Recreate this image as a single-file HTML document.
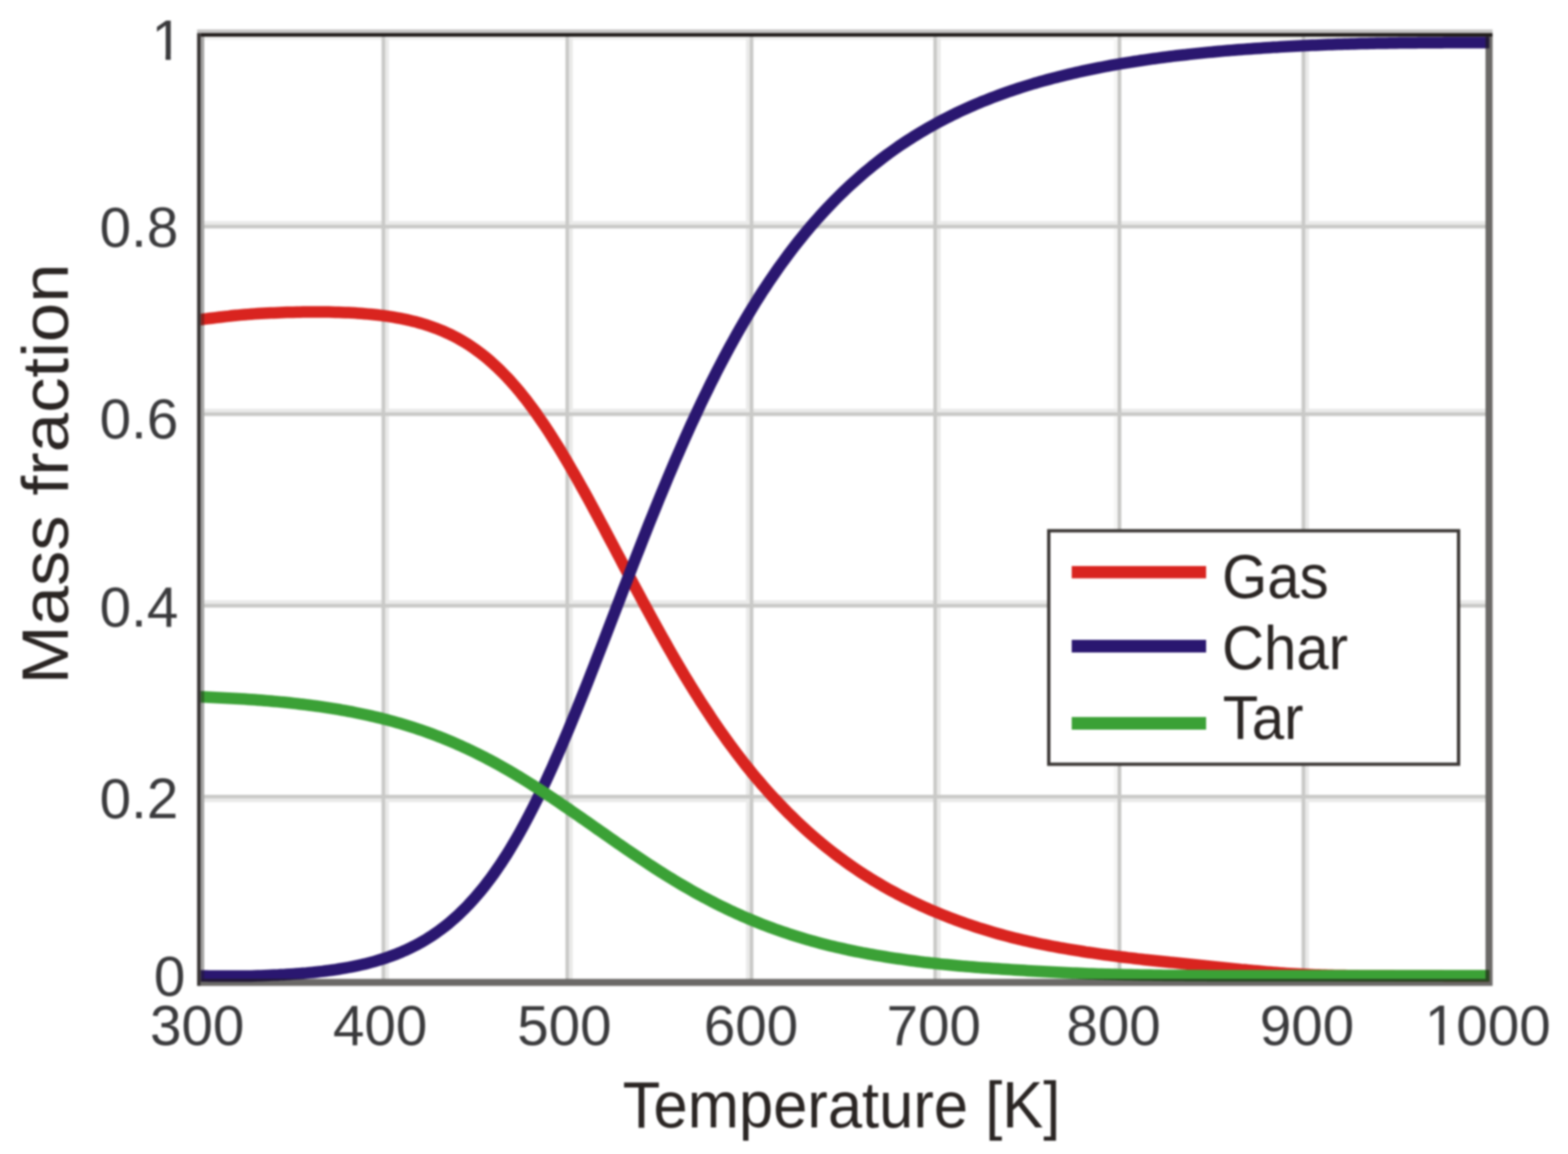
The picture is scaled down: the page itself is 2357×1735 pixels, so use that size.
<!DOCTYPE html>
<html lang="en"><head><meta charset="utf-8"><title>Mass fraction vs Temperature</title>
<style>
html,body{margin:0;padding:0;background:#fff;}
body{width:2357px;height:1735px;overflow:hidden;}
svg{display:block;filter:blur(1.6px);}
text{font-family:"Liberation Sans",Arial,Helvetica,sans-serif;fill:#2b2827;}
.tick{font-size:85px;fill:#3a3a3c;}
.ttl{font-size:98px;fill:#2a2523;}
.leg{font-size:92px;fill:#2a2523;}
</style></head><body>
<svg width="2357" height="1735" viewBox="0 0 2357 1735">
<rect x="0" y="0" width="2357" height="1735" fill="#ffffff"/>
<clipPath id="plot"><rect x="301.7" y="50" width="1937" height="1428"/></clipPath>

<g id="grid">
<rect x="307" y="55" width="1926" height="5" fill="#f0f0ee"/>
<rect x="579.0" y="55" width="5.5" height="1417" fill="#eaeae9"/>
<rect x="855.5" y="55" width="5.5" height="1417" fill="#eaeae9"/>
<rect x="1121.5" y="55" width="5.5" height="1417" fill="#eaeae9"/>
<rect x="1408.5" y="55" width="5.5" height="1417" fill="#eaeae9"/>
<rect x="1674.5" y="55" width="5.5" height="1417" fill="#f6f6f5"/>
<rect x="1962.0" y="55" width="5.5" height="1417" fill="#eaeae9"/>
<rect x="307" y="332.5" width="1926" height="5.5" fill="#eaeae9"/>
<rect x="307" y="614.5" width="1926" height="5.5" fill="#eaeae9"/>
<rect x="307" y="902.5" width="1926" height="5.5" fill="#eaeae9"/>
<rect x="307" y="1200.5" width="1926" height="5.5" fill="#eaeae9"/>
<rect x="573.5" y="55" width="5.5" height="1417" fill="#c9c9c7"/>
<rect x="850.0" y="55" width="5.5" height="1417" fill="#c9c9c7"/>
<rect x="1127.0" y="55" width="5.5" height="1417" fill="#c9c9c7"/>
<rect x="1403.0" y="55" width="5.5" height="1417" fill="#c9c9c7"/>
<rect x="1680.0" y="55" width="5.5" height="1417" fill="#c6c6c4"/>
<rect x="1956.5" y="55" width="5.5" height="1417" fill="#c9c9c7"/>
<rect x="307" y="338.0" width="1926" height="5.5" fill="#c9c9c7"/>
<rect x="307" y="620.0" width="1926" height="5.5" fill="#c9c9c7"/>
<rect x="307" y="908.0" width="1926" height="5.5" fill="#c9c9c7"/>
<rect x="307" y="1195.0" width="1926" height="5.5" fill="#c9c9c7"/>
</g>
<g fill="none" stroke-width="17.5" stroke-linejoin="round" clip-path="url(#plot)">
<path d="M300.0,480.7 L304.9,480.0 L309.7,479.4 L314.6,478.8 L319.4,478.2 L324.3,477.6 L329.2,477.0 L334.0,476.5 L338.9,475.9 L343.8,475.4 L348.6,474.8 L353.5,474.3 L358.3,473.9 L363.2,473.4 L368.1,473.0 L372.9,472.6 L377.8,472.3 L382.7,471.9 L387.5,471.6 L392.4,471.3 L397.2,471.1 L402.1,470.8 L407.0,470.6 L411.8,470.4 L416.7,470.2 L421.6,470.0 L426.4,469.8 L431.3,469.6 L436.1,469.5 L441.0,469.4 L445.9,469.3 L450.7,469.2 L455.6,469.1 L460.5,469.0 L465.3,469.0 L470.2,469.0 L475.0,469.0 L479.9,469.0 L484.8,469.0 L489.6,469.1 L494.5,469.1 L499.3,469.2 L504.2,469.4 L509.1,469.5 L513.9,469.7 L518.8,469.9 L523.7,470.1 L528.5,470.3 L533.4,470.6 L538.2,470.9 L543.1,471.3 L548.0,471.7 L552.8,472.1 L557.7,472.5 L562.6,473.0 L567.4,473.5 L572.3,474.1 L577.1,474.7 L582.0,475.4 L586.9,476.1 L591.7,476.9 L596.6,477.8 L601.5,478.7 L606.3,479.6 L611.2,480.6 L616.0,481.7 L620.9,482.9 L625.8,484.1 L630.6,485.5 L635.5,486.9 L640.4,488.4 L645.2,490.0 L650.1,491.7 L654.9,493.4 L659.8,495.3 L664.7,497.3 L669.5,499.5 L674.4,501.7 L679.2,504.0 L684.1,506.5 L689.0,509.1 L693.8,511.9 L698.7,514.8 L703.6,517.8 L708.4,521.0 L713.3,524.4 L718.1,527.9 L723.0,531.5 L727.9,535.3 L732.7,539.3 L737.6,543.5 L742.5,547.9 L747.3,552.4 L752.2,557.1 L757.0,562.0 L761.9,567.0 L766.8,572.3 L771.6,577.7 L776.5,583.3 L781.4,589.2 L786.2,595.2 L791.1,601.3 L795.9,607.7 L800.8,614.3 L805.7,621.0 L810.5,627.9 L815.4,635.0 L820.3,642.2 L825.1,649.6 L830.0,657.2 L834.8,664.9 L839.7,672.7 L844.6,680.7 L849.4,688.8 L854.3,697.1 L859.1,705.5 L864.0,713.9 L868.9,722.5 L873.7,731.2 L878.6,739.9 L883.5,748.8 L888.3,757.7 L893.2,766.7 L898.0,775.7 L902.9,784.8 L907.8,793.9 L912.6,803.1 L917.5,812.3 L922.4,821.5 L927.2,830.7 L932.1,839.9 L936.9,849.1 L941.8,858.3 L946.7,867.5 L951.5,876.7 L956.4,885.8 L961.3,894.9 L966.1,904.0 L971.0,913.0 L975.8,921.9 L980.7,930.9 L985.6,939.7 L990.4,948.5 L995.3,957.2 L1000.2,965.9 L1005.0,974.5 L1009.9,983.0 L1014.7,991.4 L1019.6,999.7 L1024.5,1007.9 L1029.3,1016.1 L1034.2,1024.1 L1039.0,1032.0 L1043.9,1039.9 L1048.8,1047.6 L1053.6,1055.3 L1058.5,1062.8 L1063.4,1070.2 L1068.2,1077.6 L1073.1,1084.8 L1077.9,1091.9 L1082.8,1098.9 L1087.7,1105.8 L1092.5,1112.6 L1097.4,1119.3 L1102.3,1125.9 L1107.1,1132.4 L1112.0,1138.8 L1116.8,1145.0 L1121.7,1151.2 L1126.6,1157.3 L1131.4,1163.2 L1136.3,1169.1 L1141.2,1174.8 L1146.0,1180.5 L1150.9,1186.0 L1155.7,1191.5 L1160.6,1196.9 L1165.5,1202.1 L1170.3,1207.3 L1175.2,1212.4 L1180.1,1217.4 L1184.9,1222.3 L1189.8,1227.1 L1194.6,1231.8 L1199.5,1236.5 L1204.4,1241.1 L1209.2,1245.5 L1214.1,1249.9 L1218.9,1254.2 L1223.8,1258.5 L1228.7,1262.6 L1233.5,1266.7 L1238.4,1270.7 L1243.3,1274.7 L1248.1,1278.5 L1253.0,1282.3 L1257.8,1286.0 L1262.7,1289.7 L1267.6,1293.2 L1272.4,1296.8 L1277.3,1300.2 L1282.2,1303.6 L1287.0,1306.9 L1291.9,1310.2 L1296.7,1313.3 L1301.6,1316.5 L1306.5,1319.5 L1311.3,1322.6 L1316.2,1325.5 L1321.1,1328.4 L1325.9,1331.3 L1330.8,1334.1 L1335.6,1336.8 L1340.5,1339.5 L1345.4,1342.1 L1350.2,1344.7 L1355.1,1347.2 L1359.9,1349.7 L1364.8,1352.1 L1369.7,1354.5 L1374.5,1356.9 L1379.4,1359.2 L1384.3,1361.4 L1389.1,1363.6 L1394.0,1365.8 L1398.8,1367.9 L1403.7,1370.0 L1408.6,1372.0 L1413.4,1374.0 L1418.3,1376.0 L1423.2,1377.9 L1428.0,1379.8 L1432.9,1381.7 L1437.7,1383.5 L1442.6,1385.2 L1447.5,1387.0 L1452.3,1388.7 L1457.2,1390.3 L1462.1,1392.0 L1466.9,1393.6 L1471.8,1395.2 L1476.6,1396.7 L1481.5,1398.2 L1486.4,1399.7 L1491.2,1401.1 L1496.1,1402.6 L1501.0,1404.0 L1505.8,1405.3 L1510.7,1406.6 L1515.5,1407.9 L1520.4,1409.2 L1525.3,1410.4 L1530.1,1411.6 L1535.0,1412.7 L1539.8,1413.9 L1544.7,1415.0 L1549.6,1416.1 L1554.4,1417.1 L1559.3,1418.2 L1564.2,1419.2 L1569.0,1420.2 L1573.9,1421.1 L1578.7,1422.1 L1583.6,1423.0 L1588.5,1423.9 L1593.3,1424.8 L1598.2,1425.6 L1603.1,1426.5 L1607.9,1427.3 L1612.8,1428.1 L1617.6,1428.9 L1622.5,1429.7 L1627.4,1430.5 L1632.2,1431.3 L1637.1,1432.0 L1642.0,1432.7 L1646.8,1433.4 L1651.7,1434.1 L1656.5,1434.8 L1661.4,1435.5 L1666.3,1436.2 L1671.1,1436.8 L1676.0,1437.4 L1680.9,1438.1 L1685.7,1438.7 L1690.6,1439.3 L1695.4,1439.9 L1700.3,1440.4 L1705.2,1441.0 L1710.0,1441.6 L1714.9,1442.1 L1719.7,1442.7 L1724.6,1443.2 L1729.5,1443.7 L1734.3,1444.2 L1739.2,1444.7 L1744.1,1445.2 L1748.9,1445.7 L1753.8,1446.2 L1758.6,1446.7 L1763.5,1447.1 L1768.4,1447.6 L1773.2,1448.1 L1778.1,1448.6 L1783.0,1449.1 L1787.8,1449.6 L1792.7,1450.1 L1797.5,1450.6 L1802.4,1451.1 L1807.3,1451.6 L1812.1,1452.1 L1817.0,1452.6 L1821.9,1453.1 L1826.7,1453.6 L1831.6,1454.1 L1836.4,1454.6 L1841.3,1455.1 L1846.2,1455.6 L1851.0,1456.1 L1855.9,1456.6 L1860.8,1457.1 L1865.6,1457.6 L1870.5,1458.0 L1875.3,1458.5 L1880.2,1458.9 L1885.1,1459.4 L1889.9,1459.8 L1894.8,1460.3 L1899.6,1460.7 L1904.5,1461.1 L1909.4,1461.5 L1914.2,1461.9 L1919.1,1462.3 L1924.0,1462.7 L1928.8,1463.0 L1933.7,1463.4 L1938.5,1463.7 L1943.4,1464.0 L1948.3,1464.3 L1953.1,1464.6 L1958.0,1464.8 L1962.9,1465.1 L1967.7,1465.3 L1972.6,1465.5 L1977.4,1465.7 L1982.3,1465.8 L1987.2,1466.0 L1992.0,1466.1 L1996.9,1466.2 L2001.8,1466.3 L2006.6,1466.4 L2011.5,1466.4 L2016.3,1466.5 L2021.2,1466.6 L2026.1,1466.7 L2030.9,1466.7 L2035.8,1466.8 L2040.7,1466.8 L2045.5,1466.9 L2050.4,1466.9 L2055.2,1466.9 L2060.1,1467.0 L2065.0,1467.0 L2069.8,1467.0 L2074.7,1467.1 L2079.5,1467.1 L2084.4,1467.1 L2089.3,1467.1 L2094.1,1467.1 L2099.0,1467.2 L2103.9,1467.2 L2108.7,1467.2 L2113.6,1467.2 L2118.4,1467.2 L2123.3,1467.2 L2128.2,1467.3 L2133.0,1467.3 L2137.9,1467.3 L2142.8,1467.3 L2147.6,1467.3 L2152.5,1467.3 L2157.3,1467.3 L2162.2,1467.3 L2167.1,1467.3 L2171.9,1467.4 L2176.8,1467.4 L2181.7,1467.4 L2186.5,1467.4 L2191.4,1467.4 L2196.2,1467.4 L2201.1,1467.4 L2206.0,1467.4 L2210.8,1467.4 L2215.7,1467.4 L2220.6,1467.4 L2225.4,1467.4 L2230.3,1467.4 L2235.1,1467.4 L2240.0,1467.4" stroke="#d9241f"/>
<path d="M300.0,1467.3 L304.9,1467.3 L309.7,1467.3 L314.6,1467.4 L319.4,1467.4 L324.3,1467.4 L329.2,1467.5 L334.0,1467.5 L338.9,1467.6 L343.8,1467.6 L348.6,1467.6 L353.5,1467.6 L358.3,1467.6 L363.2,1467.6 L368.1,1467.5 L372.9,1467.5 L377.8,1467.4 L382.7,1467.2 L387.5,1467.1 L392.4,1466.9 L397.2,1466.7 L402.1,1466.5 L407.0,1466.3 L411.8,1466.1 L416.7,1465.9 L421.6,1465.6 L426.4,1465.4 L431.3,1465.1 L436.1,1464.8 L441.0,1464.4 L445.9,1464.1 L450.7,1463.7 L455.6,1463.3 L460.5,1462.9 L465.3,1462.4 L470.2,1462.0 L475.0,1461.5 L479.9,1460.9 L484.8,1460.4 L489.6,1459.8 L494.5,1459.1 L499.3,1458.5 L504.2,1457.8 L509.1,1457.0 L513.9,1456.2 L518.8,1455.4 L523.7,1454.5 L528.5,1453.6 L533.4,1452.6 L538.2,1451.6 L543.1,1450.5 L548.0,1449.4 L552.8,1448.2 L557.7,1446.9 L562.6,1445.6 L567.4,1444.2 L572.3,1442.7 L577.1,1441.2 L582.0,1439.5 L586.9,1437.8 L591.7,1436.0 L596.6,1434.2 L601.5,1432.2 L606.3,1430.1 L611.2,1427.9 L616.0,1425.6 L620.9,1423.2 L625.8,1420.7 L630.6,1418.1 L635.5,1415.3 L640.4,1412.5 L645.2,1409.4 L650.1,1406.3 L654.9,1403.0 L659.8,1399.5 L664.7,1395.9 L669.5,1392.2 L674.4,1388.3 L679.2,1384.2 L684.1,1379.9 L689.0,1375.5 L693.8,1370.8 L698.7,1366.0 L703.6,1361.0 L708.4,1355.8 L713.3,1350.4 L718.1,1344.8 L723.0,1339.0 L727.9,1332.9 L732.7,1326.7 L737.6,1320.2 L742.5,1313.5 L747.3,1306.5 L752.2,1299.4 L757.0,1292.0 L761.9,1284.4 L766.8,1276.5 L771.6,1268.4 L776.5,1260.1 L781.4,1251.5 L786.2,1242.8 L791.1,1233.7 L795.9,1224.5 L800.8,1215.0 L805.7,1205.3 L810.5,1195.4 L815.4,1185.3 L820.3,1175.0 L825.1,1164.5 L830.0,1153.8 L834.8,1142.9 L839.7,1131.8 L844.6,1120.6 L849.4,1109.2 L854.3,1097.6 L859.1,1085.9 L864.0,1074.0 L868.9,1062.0 L873.7,1050.0 L878.6,1037.8 L883.5,1025.5 L888.3,1013.1 L893.2,1000.6 L898.0,988.1 L902.9,975.6 L907.8,962.9 L912.6,950.3 L917.5,937.6 L922.4,924.9 L927.2,912.3 L932.1,899.6 L936.9,886.9 L941.8,874.3 L946.7,861.7 L951.5,849.1 L956.4,836.6 L961.3,824.2 L966.1,811.8 L971.0,799.5 L975.8,787.3 L980.7,775.2 L985.6,763.1 L990.4,751.2 L995.3,739.3 L1000.2,727.6 L1005.0,716.0 L1009.9,704.5 L1014.7,693.1 L1019.6,681.9 L1024.5,670.8 L1029.3,659.8 L1034.2,648.9 L1039.0,638.2 L1043.9,627.7 L1048.8,617.2 L1053.6,606.9 L1058.5,596.8 L1063.4,586.8 L1068.2,576.9 L1073.1,567.2 L1077.9,557.6 L1082.8,548.2 L1087.7,538.9 L1092.5,529.8 L1097.4,520.8 L1102.3,512.0 L1107.1,503.3 L1112.0,494.7 L1116.8,486.3 L1121.7,478.0 L1126.6,469.9 L1131.4,461.9 L1136.3,454.0 L1141.2,446.3 L1146.0,438.7 L1150.9,431.3 L1155.7,424.0 L1160.6,416.8 L1165.5,409.7 L1170.3,402.8 L1175.2,396.0 L1180.1,389.3 L1184.9,382.8 L1189.8,376.3 L1194.6,370.0 L1199.5,363.8 L1204.4,357.7 L1209.2,351.8 L1214.1,345.9 L1218.9,340.2 L1223.8,334.5 L1228.7,329.0 L1233.5,323.6 L1238.4,318.3 L1243.3,313.0 L1248.1,307.9 L1253.0,302.9 L1257.8,298.0 L1262.7,293.1 L1267.6,288.4 L1272.4,283.8 L1277.3,279.2 L1282.2,274.7 L1287.0,270.4 L1291.9,266.1 L1296.7,261.9 L1301.6,257.7 L1306.5,253.7 L1311.3,249.7 L1316.2,245.8 L1321.1,242.0 L1325.9,238.3 L1330.8,234.6 L1335.6,231.0 L1340.5,227.5 L1345.4,224.0 L1350.2,220.6 L1355.1,217.3 L1359.9,214.1 L1364.8,210.9 L1369.7,207.8 L1374.5,204.7 L1379.4,201.7 L1384.3,198.8 L1389.1,195.9 L1394.0,193.0 L1398.8,190.3 L1403.7,187.6 L1408.6,184.9 L1413.4,182.3 L1418.3,179.7 L1423.2,177.2 L1428.0,174.8 L1432.9,172.3 L1437.7,170.0 L1442.6,167.7 L1447.5,165.4 L1452.3,163.2 L1457.2,161.0 L1462.1,158.9 L1466.9,156.8 L1471.8,154.7 L1476.6,152.7 L1481.5,150.8 L1486.4,148.8 L1491.2,146.9 L1496.1,145.1 L1501.0,143.3 L1505.8,141.5 L1510.7,139.7 L1515.5,138.0 L1520.4,136.4 L1525.3,134.7 L1530.1,133.1 L1535.0,131.5 L1539.8,130.0 L1544.7,128.5 L1549.6,127.0 L1554.4,125.5 L1559.3,124.1 L1564.2,122.7 L1569.0,121.4 L1573.9,120.0 L1578.7,118.7 L1583.6,117.4 L1588.5,116.2 L1593.3,114.9 L1598.2,113.7 L1603.1,112.5 L1607.9,111.4 L1612.8,110.2 L1617.6,109.1 L1622.5,108.0 L1627.4,106.9 L1632.2,105.9 L1637.1,104.9 L1642.0,103.9 L1646.8,102.9 L1651.7,101.9 L1656.5,101.0 L1661.4,100.0 L1666.3,99.1 L1671.1,98.2 L1676.0,97.4 L1680.9,96.5 L1685.7,95.7 L1690.6,94.9 L1695.4,94.1 L1700.3,93.3 L1705.2,92.5 L1710.0,91.8 L1714.9,91.0 L1719.7,90.3 L1724.6,89.6 L1729.5,88.9 L1734.3,88.2 L1739.2,87.6 L1744.1,86.9 L1748.9,86.3 L1753.8,85.6 L1758.6,85.0 L1763.5,84.4 L1768.4,83.8 L1773.2,83.3 L1778.1,82.7 L1783.0,82.2 L1787.8,81.6 L1792.7,81.1 L1797.5,80.6 L1802.4,80.1 L1807.3,79.6 L1812.1,79.1 L1817.0,78.6 L1821.9,78.2 L1826.7,77.7 L1831.6,77.3 L1836.4,76.9 L1841.3,76.4 L1846.2,76.0 L1851.0,75.6 L1855.9,75.2 L1860.8,74.8 L1865.6,74.5 L1870.5,74.1 L1875.3,73.7 L1880.2,73.4 L1885.1,73.0 L1889.9,72.7 L1894.8,72.4 L1899.6,72.1 L1904.5,71.7 L1909.4,71.4 L1914.2,71.1 L1919.1,70.9 L1924.0,70.6 L1928.8,70.3 L1933.7,70.0 L1938.5,69.8 L1943.4,69.5 L1948.3,69.3 L1953.1,69.0 L1958.0,68.8 L1962.9,68.5 L1967.7,68.3 L1972.6,68.1 L1977.4,67.9 L1982.3,67.7 L1987.2,67.5 L1992.0,67.3 L1996.9,67.1 L2001.8,66.9 L2006.6,66.8 L2011.5,66.6 L2016.3,66.4 L2021.2,66.3 L2026.1,66.2 L2030.9,66.0 L2035.8,65.9 L2040.7,65.8 L2045.5,65.6 L2050.4,65.5 L2055.2,65.4 L2060.1,65.3 L2065.0,65.2 L2069.8,65.1 L2074.7,65.0 L2079.5,65.0 L2084.4,64.9 L2089.3,64.8 L2094.1,64.7 L2099.0,64.7 L2103.9,64.6 L2108.7,64.6 L2113.6,64.5 L2118.4,64.5 L2123.3,64.4 L2128.2,64.4 L2133.0,64.3 L2137.9,64.3 L2142.8,64.3 L2147.6,64.3 L2152.5,64.2 L2157.3,64.2 L2162.2,64.2 L2167.1,64.2 L2171.9,64.1 L2176.8,64.1 L2181.7,64.1 L2186.5,64.1 L2191.4,64.1 L2196.2,64.1 L2201.1,64.1 L2206.0,64.0 L2210.8,64.0 L2215.7,64.0 L2220.6,64.0 L2225.4,64.0 L2230.3,64.0 L2235.1,64.0 L2240.0,64.0" stroke="#2a1770"/>
<path d="M300.0,1047.7 L304.9,1047.8 L309.7,1048.0 L314.6,1048.3 L319.4,1048.5 L324.3,1048.7 L329.2,1048.9 L334.0,1049.2 L338.9,1049.4 L343.8,1049.7 L348.6,1049.9 L353.5,1050.2 L358.3,1050.5 L363.2,1050.8 L368.1,1051.1 L372.9,1051.4 L377.8,1051.8 L382.7,1052.1 L387.5,1052.5 L392.4,1052.8 L397.2,1053.2 L402.1,1053.6 L407.0,1054.0 L411.8,1054.5 L416.7,1054.9 L421.6,1055.4 L426.4,1055.8 L431.3,1056.3 L436.1,1056.8 L441.0,1057.4 L445.9,1057.9 L450.7,1058.5 L455.6,1059.0 L460.5,1059.6 L465.3,1060.2 L470.2,1060.9 L475.0,1061.5 L479.9,1062.2 L484.8,1062.9 L489.6,1063.6 L494.5,1064.4 L499.3,1065.1 L504.2,1065.9 L509.1,1066.7 L513.9,1067.6 L518.8,1068.4 L523.7,1069.3 L528.5,1070.2 L533.4,1071.2 L538.2,1072.2 L543.1,1073.2 L548.0,1074.2 L552.8,1075.3 L557.7,1076.4 L562.6,1077.5 L567.4,1078.6 L572.3,1079.8 L577.1,1081.1 L582.0,1082.3 L586.9,1083.6 L591.7,1084.9 L596.6,1086.3 L601.5,1087.7 L606.3,1089.1 L611.2,1090.6 L616.0,1092.1 L620.9,1093.6 L625.8,1095.2 L630.6,1096.9 L635.5,1098.5 L640.4,1100.2 L645.2,1102.0 L650.1,1103.8 L654.9,1105.6 L659.8,1107.5 L664.7,1109.4 L669.5,1111.4 L674.4,1113.4 L679.2,1115.4 L684.1,1117.5 L689.0,1119.7 L693.8,1121.8 L698.7,1124.1 L703.6,1126.3 L708.4,1128.6 L713.3,1131.0 L718.1,1133.4 L723.0,1135.8 L727.9,1138.3 L732.7,1140.9 L737.6,1143.4 L742.5,1146.0 L747.3,1148.7 L752.2,1151.4 L757.0,1154.1 L761.9,1156.9 L766.8,1159.7 L771.6,1162.6 L776.5,1165.5 L781.4,1168.4 L786.2,1171.4 L791.1,1174.4 L795.9,1177.4 L800.8,1180.5 L805.7,1183.6 L810.5,1186.7 L815.4,1189.9 L820.3,1193.1 L825.1,1196.3 L830.0,1199.5 L834.8,1202.8 L839.7,1206.1 L844.6,1209.4 L849.4,1212.7 L854.3,1216.0 L859.1,1219.4 L864.0,1222.7 L868.9,1226.1 L873.7,1229.5 L878.6,1232.9 L883.5,1236.3 L888.3,1239.7 L893.2,1243.1 L898.0,1246.5 L902.9,1249.9 L907.8,1253.3 L912.6,1256.7 L917.5,1260.1 L922.4,1263.5 L927.2,1266.9 L932.1,1270.2 L936.9,1273.6 L941.8,1276.9 L946.7,1280.2 L951.5,1283.5 L956.4,1286.8 L961.3,1290.1 L966.1,1293.3 L971.0,1296.5 L975.8,1299.7 L980.7,1302.9 L985.6,1306.1 L990.4,1309.2 L995.3,1312.2 L1000.2,1315.3 L1005.0,1318.3 L1009.9,1321.3 L1014.7,1324.3 L1019.6,1327.2 L1024.5,1330.1 L1029.3,1332.9 L1034.2,1335.7 L1039.0,1338.5 L1043.9,1341.3 L1048.8,1344.0 L1053.6,1346.6 L1058.5,1349.3 L1063.4,1351.8 L1068.2,1354.4 L1073.1,1356.9 L1077.9,1359.4 L1082.8,1361.8 L1087.7,1364.2 L1092.5,1366.5 L1097.4,1368.9 L1102.3,1371.1 L1107.1,1373.4 L1112.0,1375.5 L1116.8,1377.7 L1121.7,1379.8 L1126.6,1381.9 L1131.4,1383.9 L1136.3,1385.9 L1141.2,1387.9 L1146.0,1389.8 L1150.9,1391.7 L1155.7,1393.5 L1160.6,1395.3 L1165.5,1397.1 L1170.3,1398.8 L1175.2,1400.5 L1180.1,1402.1 L1184.9,1403.8 L1189.8,1405.4 L1194.6,1406.9 L1199.5,1408.4 L1204.4,1409.9 L1209.2,1411.4 L1214.1,1412.8 L1218.9,1414.2 L1223.8,1415.5 L1228.7,1416.9 L1233.5,1418.2 L1238.4,1419.4 L1243.3,1420.7 L1248.1,1421.9 L1253.0,1423.1 L1257.8,1424.2 L1262.7,1425.3 L1267.6,1426.4 L1272.4,1427.5 L1277.3,1428.6 L1282.2,1429.6 L1287.0,1430.6 L1291.9,1431.5 L1296.7,1432.5 L1301.6,1433.4 L1306.5,1434.3 L1311.3,1435.2 L1316.2,1436.1 L1321.1,1436.9 L1325.9,1437.7 L1330.8,1438.5 L1335.6,1439.3 L1340.5,1440.1 L1345.4,1440.8 L1350.2,1441.5 L1355.1,1442.2 L1359.9,1442.9 L1364.8,1443.6 L1369.7,1444.2 L1374.5,1444.8 L1379.4,1445.5 L1384.3,1446.1 L1389.1,1446.7 L1394.0,1447.2 L1398.8,1447.8 L1403.7,1448.3 L1408.6,1448.8 L1413.4,1449.4 L1418.3,1449.9 L1423.2,1450.3 L1428.0,1450.8 L1432.9,1451.3 L1437.7,1451.7 L1442.6,1452.2 L1447.5,1452.6 L1452.3,1453.0 L1457.2,1453.4 L1462.1,1453.8 L1466.9,1454.2 L1471.8,1454.6 L1476.6,1454.9 L1481.5,1455.3 L1486.4,1455.6 L1491.2,1456.0 L1496.1,1456.3 L1501.0,1456.6 L1505.8,1456.9 L1510.7,1457.2 L1515.5,1457.5 L1520.4,1457.9 L1525.3,1458.2 L1530.1,1458.5 L1535.0,1458.8 L1539.8,1459.1 L1544.7,1459.4 L1549.6,1459.7 L1554.4,1459.9 L1559.3,1460.2 L1564.2,1460.5 L1569.0,1460.8 L1573.9,1461.0 L1578.7,1461.3 L1583.6,1461.5 L1588.5,1461.8 L1593.3,1462.0 L1598.2,1462.3 L1603.1,1462.5 L1607.9,1462.7 L1612.8,1462.9 L1617.6,1463.1 L1622.5,1463.3 L1627.4,1463.5 L1632.2,1463.7 L1637.1,1463.9 L1642.0,1464.0 L1646.8,1464.2 L1651.7,1464.4 L1656.5,1464.5 L1661.4,1464.7 L1666.3,1464.8 L1671.1,1464.9 L1676.0,1465.1 L1680.9,1465.2 L1685.7,1465.3 L1690.6,1465.4 L1695.4,1465.5 L1700.3,1465.6 L1705.2,1465.7 L1710.0,1465.8 L1714.9,1465.9 L1719.7,1466.0 L1724.6,1466.0 L1729.5,1466.1 L1734.3,1466.2 L1739.2,1466.3 L1744.1,1466.3 L1748.9,1466.4 L1753.8,1466.4 L1758.6,1466.5 L1763.5,1466.5 L1768.4,1466.6 L1773.2,1466.6 L1778.1,1466.6 L1783.0,1466.7 L1787.8,1466.7 L1792.7,1466.7 L1797.5,1466.8 L1802.4,1466.8 L1807.3,1466.8 L1812.1,1466.8 L1817.0,1466.9 L1821.9,1466.9 L1826.7,1466.9 L1831.6,1466.9 L1836.4,1466.9 L1841.3,1466.9 L1846.2,1467.0 L1851.0,1467.0 L1855.9,1467.0 L1860.8,1467.0 L1865.6,1467.0 L1870.5,1467.0 L1875.3,1467.0 L1880.2,1467.0 L1885.1,1467.0 L1889.9,1467.0 L1894.8,1467.0 L1899.6,1467.0 L1904.5,1467.0 L1909.4,1467.0 L1914.2,1467.0 L1919.1,1467.0 L1924.0,1467.0 L1928.8,1467.0 L1933.7,1467.0 L1938.5,1467.0 L1943.4,1467.0 L1948.3,1467.0 L1953.1,1467.0 L1958.0,1467.0 L1962.9,1467.0 L1967.7,1467.0 L1972.6,1467.0 L1977.4,1467.0 L1982.3,1467.0 L1987.2,1467.0 L1992.0,1467.0 L1996.9,1467.0 L2001.8,1467.0 L2006.6,1467.0 L2011.5,1467.0 L2016.3,1467.0 L2021.2,1467.0 L2026.1,1467.0 L2030.9,1467.0 L2035.8,1467.0 L2040.7,1467.0 L2045.5,1467.0 L2050.4,1467.0 L2055.2,1467.0 L2060.1,1467.0 L2065.0,1467.0 L2069.8,1467.0 L2074.7,1467.0 L2079.5,1467.0 L2084.4,1467.0 L2089.3,1467.0 L2094.1,1467.0 L2099.0,1467.0 L2103.9,1467.0 L2108.7,1467.0 L2113.6,1467.0 L2118.4,1467.0 L2123.3,1467.0 L2128.2,1467.0 L2133.0,1467.0 L2137.9,1467.0 L2142.8,1467.0 L2147.6,1467.0 L2152.5,1467.0 L2157.3,1467.0 L2162.2,1467.0 L2167.1,1467.0 L2171.9,1467.0 L2176.8,1467.0 L2181.7,1467.0 L2186.5,1467.0 L2191.4,1467.0 L2196.2,1467.0 L2201.1,1467.0 L2206.0,1467.0 L2210.8,1467.0 L2215.7,1467.0 L2220.6,1467.0 L2225.4,1467.0 L2230.3,1467.0 L2235.1,1467.0 L2240.0,1467.0" stroke="#3ba136"/>
</g>
<g id="frame" fill="#1f1b19">
<rect x="296.3" y="44.3" width="1947.3" height="5.4" fill-opacity="0.26"/>
<rect x="301.7" y="49.7" width="1941.9" height="5.4" fill-opacity="1"/>
<rect x="296.3" y="49.7" width="5.4" height="1432.6" fill-opacity="0.9"/>
<rect x="301.7" y="55.1" width="5.3" height="1416.6" fill-opacity="0.4"/>
<rect x="2233" y="55.1" width="10.6" height="1427.2" fill-opacity="0.66"/>
<rect x="301.7" y="1471.7" width="1931.3" height="10.6" fill-opacity="0.66"/>
</g>
<g class="tick" text-anchor="middle">
<text class="tick" x="296.3" y="1570.5">300</text>
<text class="tick" x="571.3" y="1570.5">400</text>
<text class="tick" x="848.3" y="1570.5">500</text>
<text class="tick" x="1128.9" y="1570.5">600</text>
<text class="tick" x="1403.6" y="1570.5">700</text>
<text class="tick" x="1674" y="1570.5">800</text>
<text class="tick" x="1964.6" y="1570.5">900</text>
<text class="tick" x="2236.4" y="1570.5">1000</text>
</g>
<g class="tick" text-anchor="end">
<text class="tick" x="275" y="89.5">1</text>
<text class="tick" x="268" y="370.5">0.8</text>
<text class="tick" x="268" y="658.5">0.6</text>
<text class="tick" x="268" y="941.5">0.4</text>
<text class="tick" x="268" y="1229.5">0.2</text>
<text class="tick" x="278.5" y="1497">0</text>
</g>
<rect x="231.14" y="82.28" width="17.75" height="9.35" fill="#ffffff"/>
<rect x="256.63" y="82.28" width="17.00" height="9.35" fill="#ffffff"/>
<rect x="2145.28" y="1563.28" width="17.75" height="9.35" fill="#ffffff"/>
<rect x="2170.77" y="1563.28" width="17.00" height="9.35" fill="#ffffff"/>
<text class="ttl" x="1265" y="1695" text-anchor="middle" textLength="658" lengthAdjust="spacingAndGlyphs">Temperature [K]</text>
<text class="ttl" transform="translate(102,712.5) rotate(-90)" text-anchor="middle" textLength="633" lengthAdjust="spacingAndGlyphs">Mass fraction</text>
<g id="legend">
<rect x="1576.5" y="798" width="616" height="351" fill="#ffffff" stroke="#3b3735" stroke-width="5"/>
<rect x="1611" y="851" width="202" height="18.5" fill="#d9241f"/>
<rect x="1611" y="962" width="202" height="19" fill="#2a1770"/>
<rect x="1611" y="1078" width="202" height="19" fill="#3ba136"/>
<text class="leg" transform="translate(1837,899) scale(0.95,1)">Gas</text>
<text class="leg" transform="translate(1837,1006) scale(0.95,1)">Char</text>
<text class="leg" transform="translate(1838,1111) scale(0.95,1)">Tar</text>
</g>
</svg></body></html>
